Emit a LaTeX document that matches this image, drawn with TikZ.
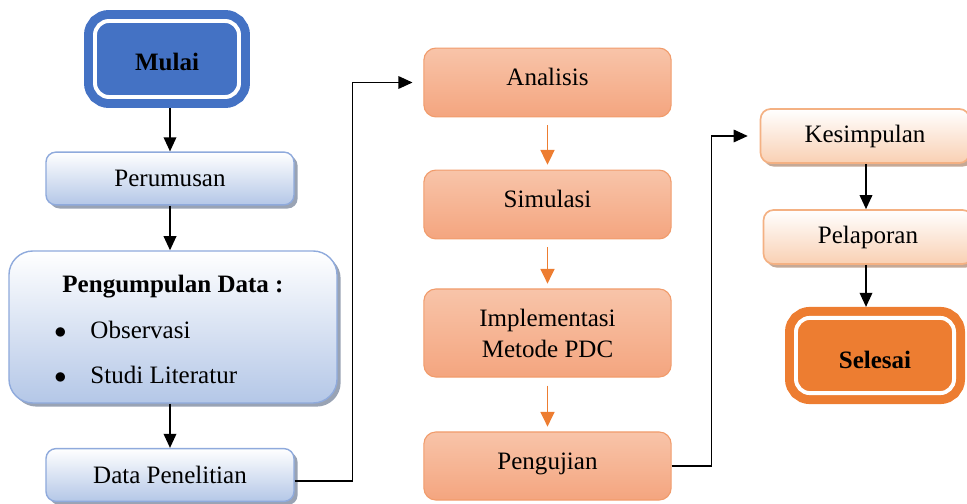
\documentclass[tikz,border=0pt]{standalone}
\usepackage{fontspec}
\setmainfont{Liberation Serif}
\usetikzlibrary{arrows.meta,positioning,shadows}
\definecolor{fcBlue}{HTML}{4472C4}
\definecolor{fcBlueEdge}{HTML}{8FAADC}
\definecolor{fcBlueLow}{HTML}{B4C7E7}
\definecolor{fcShadow}{HTML}{8E99AC}
\definecolor{fcOrange}{HTML}{ED7D31}
\definecolor{fcSalmonTop}{HTML}{F8C4A9}
\definecolor{fcSalmonLow}{HTML}{F4A57F}
\definecolor{fcSalmonEdge}{HTML}{F19C6C}
\definecolor{fcPeachLow}{HTML}{F9D0B3}
\definecolor{fcPeachEdge}{HTML}{F4B183}
\definecolor{fcPeachShadow}{HTML}{BFA08C}

\begin{document}
\begin{tikzpicture}[
  x=0.025cm, y=-0.025cm,
  font=\fontsize{17.8}{22}\selectfont,
  >={Triangle[length=10pt,width=9pt]},
  term/.style={rounded corners=0.35cm,line width=6.4pt,double distance=2.8pt,double=white,
               outer sep=0.275cm,font=\fontsize{17.8}{22}\selectfont\bfseries,align=center},
  prep/.style={rounded corners=0.25cm,draw=fcBlueEdge,line width=1pt,top color=white,
               bottom color=fcBlueLow,align=center,minimum width=6.2cm,minimum height=1.32cm,
               drop shadow={shadow xshift=0.09cm,shadow yshift=-0.09cm,fill=fcShadow,opacity=0.9}},
  proc/.style={rounded corners=0.3cm,draw=fcSalmonEdge,line width=0.8pt,top color=fcSalmonTop,
               bottom color=fcSalmonLow,align=center,minimum width=6.18cm,minimum height=1.72cm},
  fin/.style={rounded corners=0.25cm,draw=fcPeachEdge,line width=1.2pt,top color=white,
              bottom color=fcPeachLow,align=center,minimum width=5.22cm,minimum height=1.35cm,
              drop shadow={shadow xshift=0.08cm,shadow yshift=-0.09cm,fill=fcPeachShadow,opacity=0.9}},
  lift/.style={text height=0.45cm,text depth=0.3cm},
  blk/.style={->,line width=1pt,black},
  org/.style={->,line width=1pt,fcOrange,shorten <=0.2cm,shorten >=0.12cm,
              >={Triangle[length=10.5pt,width=10pt]}},
]
\useasboundingbox (0,0) rectangle (967,504);

% left column
\node[term,draw=fcBlue,fill=fcBlue,minimum width=3.6cm,minimum height=1.9cm,
      text height=0.56cm,text depth=0pt] (mulai) at (167,59) {Mulai};
\node[prep] (rumus) at (170,178.5) {Perumusan};
\node[prep,rounded corners=0.6cm,minimum width=8.2cm,minimum height=3.8cm] (kumpul) at (173,327) {};
\node[font=\fontsize{17.8}{22}\selectfont\bfseries] (judul) at (173,287) {Pengumpulan Data :};
\node[anchor=west,inner sep=0pt] (obs) at (54,330) {$\bullet$\hspace{0.6cm}Observasi};
\node[anchor=west,inner sep=0pt] (studi) at (54,375) {$\bullet$\hspace{0.6cm}Studi Literatur};
\node[prep] (data) at (170,475) {Data Penelitian};

% middle column
\node[proc,lift] (anal) at (547.5,82.5) {Analisis};
\node[proc,lift] (simul) at (547.5,204.5) {Simulasi};
\node[proc,minimum height=2.2cm] (impl) at (547.5,333) {Implementasi\\Metode PDC};
\node[proc,lift,minimum height=1.7cm] (uji) at (547.5,466) {Pengujian};

% right column
\node[fin] (simpul) at (865,136) {Kesimpulan};
\node[fin] (lapor) at (868,237) {Pelaporan};
\node[term,draw=fcOrange,fill=fcOrange,minimum width=3.95cm,minimum height=1.88cm,
      text height=0.65cm,text depth=0pt] (selesai) at (875,355.5) {Selesai};

% arrows
\draw[blk] (170,108) coordinate (m0) -- (m0 |- rumus.north);
\draw[blk] (m0 |- rumus.south) -- (m0 |- kumpul.north);
\draw[blk] (m0 |- kumpul.south) -- (m0 |- data.north);
\draw[line width=0.8pt,->,shorten >=0.27cm] ([yshift=-0.15cm]data.east) -- ++(58,0) |- (anal.west);
\draw[org] (anal.south) -- (simul.north);
\draw[org] (simul.south) -- (impl.north);
\draw[org] (impl.south) -- (uji.north);
\draw[line width=0.8pt,->,shorten >=0.3cm] (uji.east) -- ++(40,0) |- (simpul.west);
\draw[blk] (866,0) coordinate (k0) (k0 |- simpul.south) -- (k0 |- lapor.north);
\draw[blk] (k0 |- lapor.south) -- (k0 |- selesai.north);
\end{tikzpicture}
\end{document}
